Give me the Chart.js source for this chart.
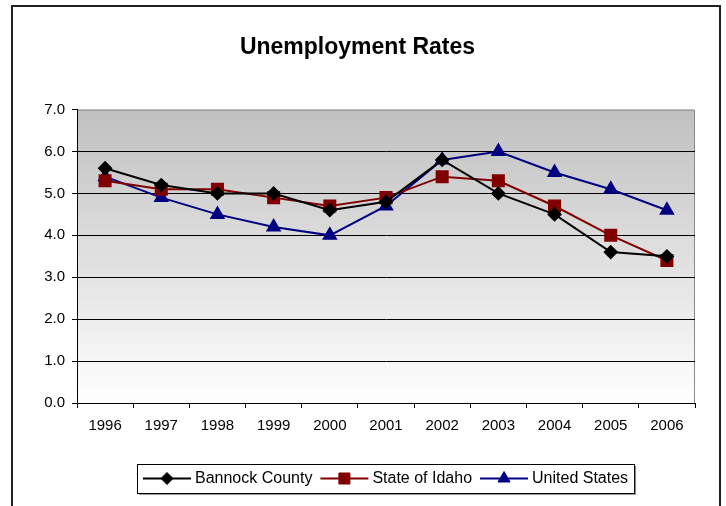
<!DOCTYPE html>
<html>
<head>
<meta charset="utf-8">
<script src="https://cdn.jsdelivr.net/npm/chart.js@4/dist/chart.umd.min.js"></script>
<style>
  html, body { margin: 0; padding: 0; background: #fff; }
  #wrap { width: 726px; height: 506px; }
</style>
</head>
<body>
<div id="wrap"><canvas id="chart" width="726" height="506"></canvas></div>
<script>
const years = ["1996", "1997", "1998", "1999", "2000", "2001", "2002", "2003", "2004", "2005", "2006"];
const bannock = [5.6, 5.2, 5.0, 5.0, 4.6, 4.8, 5.8, 5.0, 4.5, 3.6, 3.5];
const idaho = [5.3, 5.1, 5.1, 4.9, 4.7, 4.9, 5.4, 5.3, 4.7, 4.0, 3.4];
const usa = [5.4, 4.9, 4.5, 4.2, 4.0, 4.7, 5.8, 6.0, 5.5, 5.1, 4.6];

const FONT = "'Liberation Sans', Arial, sans-serif";

// fondo degradado del area de trazado y marco exterior
const backdrop = {
  id: "backdrop",
  beforeDraw(chart) {
    const { ctx, chartArea: a } = chart;
    ctx.save();
    const g = ctx.createLinearGradient(0, a.top, 0, a.bottom);
    g.addColorStop(0, "#c0c0c0");
    g.addColorStop(1, "#ffffff");
    ctx.fillStyle = g;
    ctx.fillRect(a.left, a.top, a.right - a.left, a.bottom - a.top);
    ctx.strokeStyle = "#888";
    ctx.lineWidth = 1;
    ctx.beginPath();
    ctx.moveTo(a.left, a.top + 0.5);
    ctx.lineTo(a.right - 0.5, a.top + 0.5);
    ctx.lineTo(a.right - 0.5, a.bottom);
    ctx.stroke();
    // marco del grafico
    ctx.strokeStyle = "#222";
    ctx.lineWidth = 2;
    ctx.strokeRect(12, 6, 708, 600);
    ctx.restore();
  }
};

// leyenda con linea + marcador dentro de una caja
const boxLegend = {
  id: "boxLegend",
  afterDraw(chart) {
    const { ctx, chartArea: a } = chart;
    const sets = chart.data.datasets;
    ctx.save();
    ctx.font = "16px " + FONT;
    const lineLen = 48, gap = 8, pad = 6;
    let total = pad;
    sets.forEach((ds, i) => {
      total += lineLen + 4 + ctx.measureText(ds.label).width + (i < sets.length - 1 ? gap : pad);
    });
    const top = 464, h = 29, cy = top + h / 2;
    let x = Math.round((a.left + a.right) / 2 - total / 2);
    // sombra y caja
    ctx.fillStyle = "#999";
    ctx.fillRect(x + 2, top + 2, total, h);
    ctx.fillStyle = "#fff";
    ctx.fillRect(x, top, total, h);
    ctx.strokeStyle = "#000";
    ctx.lineWidth = 1;
    ctx.strokeRect(x + 0.5, top + 0.5, total, h);
    x += pad;
    sets.forEach((ds) => {
      ctx.strokeStyle = ds.borderColor;
      ctx.lineWidth = 2;
      ctx.beginPath();
      ctx.moveTo(x, cy);
      ctx.lineTo(x + lineLen, cy);
      ctx.stroke();
      ctx.fillStyle = ds.pointBackgroundColor;
      ctx.strokeStyle = ds.pointBorderColor;
      ctx.lineWidth = 1;
      Chart.helpers.drawPoint(ctx, { pointStyle: ds.pointStyle, radius: ds.pointRadius, rotation: 0, borderWidth: 1 }, x + lineLen / 2, cy);
      x += lineLen + 4;
      ctx.fillStyle = "#000";
      ctx.textBaseline = "middle";
      ctx.textAlign = "left";
      ctx.fillText(ds.label, x, cy);
      x += ctx.measureText(ds.label).width + gap;
    });
    ctx.restore();
  }
};

function serie(label, data, color, style, radius) {
  return {
    label: label,
    data: data,
    borderColor: color,
    backgroundColor: color,
    pointBackgroundColor: color,
    pointBorderColor: color,
    pointStyle: style,
    pointRadius: radius,
    pointHoverRadius: radius,
    borderWidth: 2,
    tension: 0
  };
}

new Chart(document.getElementById("chart"), {
  type: "line",
  data: {
    labels: years,
    datasets: [
      serie("Bannock County", bannock, "#000000", "rectRot", 6),
      serie("State of Idaho", idaho, "#800000", "rect", 7.8),
      serie("United States", usa, "#000080", "triangle", 7)
    ]
  },
  options: {
    responsive: false,
    animation: false,
    devicePixelRatio: 1,
    layout: { padding: { top: 6, left: 20, right: 31, bottom: 63 } },
    plugins: {
      legend: { display: false },
      tooltip: { enabled: false },
      title: {
        display: true,
        text: "Unemployment Rates",
        color: "#000",
        font: { family: FONT, size: 23, weight: "bold" },
        padding: { top: 28, bottom: 48 }
      }
    },
    scales: {
      x: {
        offset: true,
        grid: { offset: true, drawOnChartArea: false, tickLength: 5, color: "#000" },
        border: { color: "#000", width: 1 },
        ticks: { color: "#000", font: { family: FONT, size: 15 }, padding: 9, maxRotation: 0 },
        afterFit(s) { s.height = 40; }
      },
      y: {
        min: 0,
        max: 7,
        ticks: {
          stepSize: 1,
          color: "#000",
          font: { family: FONT, size: 15 },
          padding: 7,
          callback: (v) => v.toFixed(1)
        },
        grid: {
          tickLength: 5,
          tickColor: "#000",
          color: (c) => (c.tick && c.tick.value === 7 ? "rgba(0,0,0,0)" : "#000")
        },
        border: { color: "#000", width: 1 },
        afterFit(s) { s.width = 57; }
      }
    }
  },
  plugins: [backdrop, boxLegend]
});
</script>
</body>
</html>
